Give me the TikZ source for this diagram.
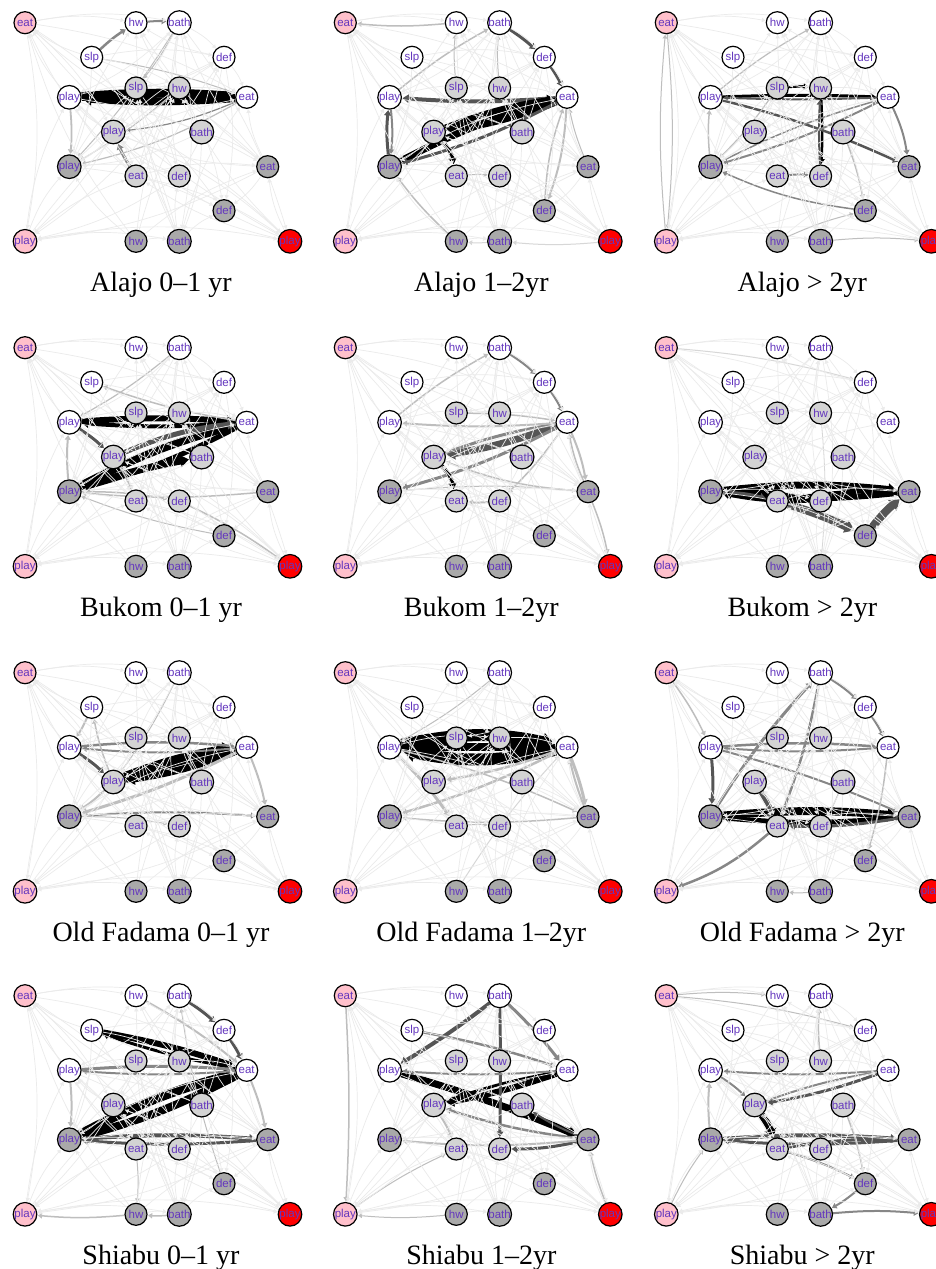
\documentclass[tikz,border=0pt]{standalone}
\usepackage{fontspec}
\setmainfont{Liberation Serif}
\newfontfamily\nodefont{Liberation Sans}
\usetikzlibrary{arrows.meta}
\pgfdeclarelayer{back}
\pgfdeclarelayer{bg}
\pgfsetlayers{back,bg,main}
\definecolor{lab}{RGB}{100,55,190}
\definecolor{pinkf}{RGB}{255,192,203}
\definecolor{lgf}{RGB}{211,211,211}
\definecolor{dgf}{RGB}{169,169,169}
\definecolor{faint}{RGB}{235,235,235}
\definecolor{ek}{RGB}{0,0,0}
\definecolor{ed}{RGB}{85,85,85}
\definecolor{em}{RGB}{135,135,135}
\definecolor{el}{RGB}{190,190,190}
\definecolor{ev}{RGB}{215,215,215}
\tikzset{
  vtx/.style={circle,draw=black,line width=1.2pt,minimum size=22pt,inner sep=0pt,
    font=\nodefont\fontsize{11.5}{11.5}\selectfont,text=lab},
  edg/.style={-{Triangle[length=3pt 0.8,width=3.5pt 1.2]},shorten >=0.5pt},
  faintedge/.style={edg,draw=faint,line width=0.7pt,bend left=10},
  paneltitle/.style={font=\fontsize{28}{28}\selectfont,inner sep=0pt}
}
\def\nodelist{EP/25/22.7/pinkf/eat, HW/136/22.7/white/hw, BW/179.3/22.7/white/bath,
  SW/91.7/57.3/white/slp, DW/224/57.3/white/def, PW/69.3/97.3/white/play,
  SL/136/88/lgf/slp, HL/179.3/88/lgf/hw, EW/246.7/97.3/white/eat,
  PL/113.3/132/lgf/play, BL/201.7/132/lgf/bath, PD/69.3/166.7/dgf/play,
  EL/136/176/lgf/eat, DL/179.3/176/lgf/def, ED/267.7/166.7/dgf/eat,
  DD/224/210.7/dgf/def, PP/25/241.3/pinkf/play, HD/136/241.3/dgf/hw,
  BD/179.3/241.3/dgf/bath, PR/290/241.3/red/play}
\def\namelist{EP,HW,BW,SW,DW,PW,SL,HL,EW,PL,BL,PD,EL,DL,ED,DD,PP,HD,BD,PR}
\newcommand\panel[5]{%
\begin{scope}[shift={(#2,#3)}]
  \foreach \na/\xa/\ya/\fa/\la in \nodelist {
    \node[vtx,fill=\fa] (#1\na) at (\xa,\ya) {\la};
  }
  \node[paneltitle,anchor=base] (#1title) at (161,291) {#4};
  \begin{pgfonlayer}{bg}
    \foreach \sa/\ta/\wa/\ca/\ba in {#5} {
      \draw[edg,line width=\wa pt,draw=\ca,bend left=\ba] (#1\sa) to (#1\ta);
    }
    \foreach \sa [count=\i] in \namelist {
      \foreach \ta [count=\j] in \namelist {
        \pgfmathtruncatemacro\hh{mod(\i*\j+3*\i+5*\j,7)}
        \ifnum\i=\j\relax\else\ifnum\hh<2\relax
          \draw[faintedge] (#1\sa) to (#1\ta);
        \fi\fi
      }
    }
  \end{pgfonlayer}
\end{scope}}
\begin{document}
\begin{tikzpicture}[x=1pt,y=-1pt]
\begin{pgfonlayer}{back}
\fill[white] (0,0) rectangle (935,1269);
\end{pgfonlayer}
\useasboundingbox (0,0) rectangle (935,1269);
% Row 1: Alajo
\panel{a}{0}{0}{Alajo 0–1 yr}{PW/EW/9/ek/4, EW/PW/8/ek/4, SW/HW/2.5/em/5, HW/BW/2/em/5, PW/PD/1.8/el/5, EL/PL/3/em/5, EW/PD/1.2/el/8, EW/PL/1.2/em/8, BW/PD/1/el/5, SW/EW/1/el/5, BW/SL/1/el/5, HL/PD/1/el/5}
\panel{b}{320.3}{0}{Alajo 1–2yr}{EW/PW/4/ed/4, EW/PL/8/ek/6, PL/EW/6/ek/6, PD/EW/7/ek/6, EW/PD/3/ed/6, PL/EL/4/ek/15, PD/PW/3/ed/6, PW/PD/2/em/6, BW/DW/3/ed/4, DW/EW/2.5/ed/4, EW/DD/2/el/8, DD/EW/1.5/el/8, PW/BW/1.5/el/5, HW/EP/1.5/el/5, SL/HW/1/el/5, HD/PD/1.5/el/5, BD/HD/1/ev/5, PR/BD/1/ev/5, HL/BW/1/el/5, EL/DL/1/el/5, ED/EW/1/el/5}
\panel{c}{641.3}{0}{Alajo > 2yr}{PW/EW/3/ek/2, EW/PW/2/ed/2, SL/HL/2.5/ek/5, HL/DL/2.5/ek/3, DL/HL/2/ed/3, PW/ED/2.5/ed/5, EW/PD/2/em/5, PD/EW/1.5/em/5, EW/ED/2/em/8, EL/DL/2/em/5, DD/PD/1.5/em/8, PD/PW/1.5/el/5, PW/BW/1.2/el/5, EP/PP/1/el/5, PP/EP/1/el/5, BD/PR/1/el/5, BL/DD/1.5/el/5, HD/DD/1/el/5, SL/PD/1.2/el/5}
% Row 2: Bukom
\panel{d}{0}{325}{Bukom 0–1 yr}{PW/EW/6/ek/4, EW/PW/4/ek/4, PD/EW/8/ek/6, EW/PD/5/ek/6, PD/BL/7/ek/4, PL/EW/5/ed/8, PW/PL/3/ed/5, PD/PW/2/el/5, EW/SW/1.5/el/5, BW/PW/1.2/el/5, ED/PD/1.5/el/5, PD/DL/1.5/el/5, DL/PR/1.5/el/5, PL/EL/1.5/el/5, DD/PD/1/el/5}
\panel{e}{320.3}{325}{Bukom 1–2yr}{EW/PL/7/ed/5, PL/EW/3/em/5, EW/PD/3/em/6, EW/PW/2/el/4, SL/EW/1.5/el/4, PL/EL/4/ek/15, DL/EL/2/el/5, BW/DW/2/em/5, DW/EW/2/em/5, EW/ED/2/el/6, ED/EW/1.5/el/6, PW/BW/1.5/el/5, ED/PL/1.5/el/8, EW/DL/1.5/el/5, ED/PR/1.5/el/5, PD/ED/1/el/5}
\panel{f}{641.3}{325}{Bukom > 2yr}{PD/ED/7/ek/6, ED/PD/6/ek/6, EL/ED/4/ek/5, PD/DL/4/ek/6, EL/DD/8/ed/4, DD/ED/8/ed/6, PD/EL/3/ed/6, DL/PD/3/ek/6, EP/DW/1/ev/5, HL/BD/0.8/ev/5}
% Row 3: Old Fadama
\panel{g}{0}{650}{Old Fadama 0–1 yr}{PL/EW/11/ek/6, EW/PL/7/ek/6, PW/PL/3/ed/5, PW/EW/2.5/em/5, EW/PW/2/em/5, EW/PD/3/el/5, PL/PD/2/el/5, PD/ED/2/em/4, EW/ED/2/el/5, SW/PW/2/el/5, PL/SW/1.5/el/5, BW/PL/1/el/5, PD/DL/1/el/5}
\panel{h}{320.3}{650}{Old Fadama 1–2yr}{PW/EW/12/ek/12, EW/PW/12/ek/12, PW/EW/8/ek/0, EW/ED/3/el/4, ED/EW/2/el/4, PW/EL/3/el/5, EW/PD/2.5/el/5, EW/PL/2.5/el/5, ED/PD/1.5/el/5, PW/ED/1.5/el/5, BW/PW/1/el/5, EL/DL/1/el/5, HD/EW/1/ev/5}
\panel{i}{641.3}{650}{Old Fadama > 2yr}{PD/ED/8/ek/5, ED/PD/5/ek/5, PL/EL/5/ed/5, ED/EL/3/ed/5, PW/PD/3/ed/5, PD/BW/3/em/5, BW/EL/2.5/em/5, BW/DW/2/em/5, DW/EW/2/em/5, PW/EW/2.5/em/4, EW/PW/2/em/4, PW/ED/2/em/4, EL/PP/2.5/em/10, EW/DD/1.5/el/5, EP/PW/1.5/el/5, BL/DL/1/el/5, BD/HD/1/el/5}
% Row 4: Shiabu
\panel{j}{0}{973}{Shiabu 0–1 yr}{SW/EW/6/ek/4, EW/SW/3/ek/4, PD/EW/9/ek/6, EW/PD/8/ek/6, PW/EW/3/em/4, EW/PW/2/em/4, PD/ED/4/ed/4, ED/PD/3/ed/4, BW/DW/3/ed/4, DW/EW/3/ed/4, HW/EW/2/el/5, PW/PD/2/el/5, EW/ED/2/el/5, BD/HD/1.5/el/5, HD/PP/1.5/el/5, DD/BW/1/el/5, EL/HD/1/el/5}
\panel{k}{320.3}{973}{Shiabu 1–2yr}{PW/ED/7/ek/3, EW/PL/6/ek/4, PL/EW/3/ek/4, BW/PW/4/ed/3, BW/DL/3/ed/1, BW/EW/3/em/4, SW/EW/2.5/em/4, ED/DL/3/ed/6, ED/PL/2.5/em/5, EW/PW/2/em/4, PL/EL/2/el/5, ED/BL/2/ed/5, ED/PD/2/el/5, EP/PP/1.5/el/3, HD/PP/1/el/5, PR/ED/1.5/el/5, PP/EL/1/el/5}
\panel{l}{641.3}{973}{Shiabu > 2yr}{PL/EL/7/ek/8, PD/ED/4/ed/4, ED/PD/3/ed/4, EL/ED/3/ed/5, EW/PL/3/ed/5, PL/EW/2/em/5, EW/PW/2/em/4, PW/PL/2/em/5, PD/PW/2/el/5, EL/DD/2/em/5, DD/BD/2/em/5, BD/PR/2/em/5, BL/DD/1.5/el/5, HL/BW/1.5/el/5, EP/HW/1/el/5, EP/DW/1/el/5, PP/PD/1/el/5}
\end{tikzpicture}
\end{document}
